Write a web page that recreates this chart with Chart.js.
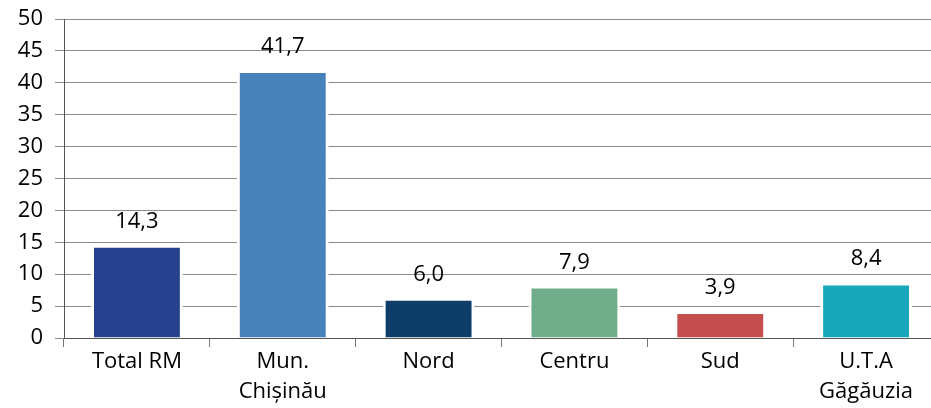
<!DOCTYPE html>
<html>
<head>
<meta charset="utf-8">
<script src="https://cdn.jsdelivr.net/npm/chart.js@4/dist/chart.umd.min.js"></script>
<style>
html, body { margin: 0; padding: 0; overflow: hidden; background: #fff; }
#wrap { width: 945px; height: 408px; position: relative; }
</style>
</head>
<body>
<div id="wrap"><canvas id="c"></canvas></div>
<script>
const categories = ['Total RM', ['Mun.', 'Chișinău'], 'Nord', 'Centru', 'Sud', ['U.T.A', 'Găgăuzia']];
const values = [14.3, 41.7, 6.0, 7.9, 3.9, 8.4];
const barColors = ['#27418f', '#4681b9', '#0f3d69', '#70ae8b', '#c44d4d', '#17a8bc'];
const yTicks = [0, 5, 10, 15, 20, 25, 30, 35, 40, 45, 50];

const FONT = "'Open Sans', 'Noto Sans', sans-serif";

const valueLabels = {
  id: 'valueLabels',
  afterDatasetsDraw(chart) {
    const ctx = chart.ctx;
    const meta = chart.getDatasetMeta(0);
    ctx.save();
    ctx.font = "22px " + FONT;
    ctx.fillStyle = '#000';
    ctx.textAlign = 'center';
    ctx.textBaseline = 'alphabetic';
    meta.data.forEach((el, i) => {
      const txt = values[i].toFixed(1).replace('.', ',');
      ctx.fillText(txt, el.x, el.y - 19);
    });
    ctx.restore();
  }
};

new Chart(document.getElementById('c'), {
  type: 'bar',
  data: {
    labels: categories,
    datasets: [{
      data: values,
      backgroundColor: barColors,
      borderColor: '#ffffff',
      borderWidth: { left: 3, right: 3, top: 1, bottom: 0 },
      borderSkipped: 'start',
      barPercentage: 0.63,
      categoryPercentage: 1.0
    }]
  },
  options: {
    responsive: true,
    maintainAspectRatio: false,
    animation: false,
    events: [],
    layout: { padding: { left: 0, right: 6, top: 19, bottom: 0 } },
    plugins: { legend: { display: false }, tooltip: { enabled: false } },
    scales: {
      x: {
        offset: true,
        grid: { offset: true, drawOnChartArea: false, drawTicks: true, tickLength: 9, color: '#777', lineWidth: 1 },
        border: { display: true, color: '#555', width: 1 },
        ticks: { color: '#000', font: { family: FONT, size: 22, lineHeight: 1.36 }, padding: 0, maxRotation: 0, autoSkip: false },
        afterFit(scale) { scale.height = 70; scale.paddingLeft = 0; scale.paddingRight = 0; }
      },
      y: {
        min: 0, max: 50,
        afterBuildTicks(scale) { scale.ticks = yTicks.map(v => ({ value: v })); },
        grid: { color: '#8a8a8a', lineWidth: 1, drawTicks: true, tickLength: 9 },
        border: { display: true, color: '#555', width: 1 },
        ticks: { color: '#000', font: { family: FONT, size: 22 }, padding: 12 },
        afterFit(scale) { scale.width = 64; scale.paddingTop = 0; scale.paddingBottom = 0; }
      }
    }
  },
  plugins: [valueLabels]
});
</script>
</body>
</html>
